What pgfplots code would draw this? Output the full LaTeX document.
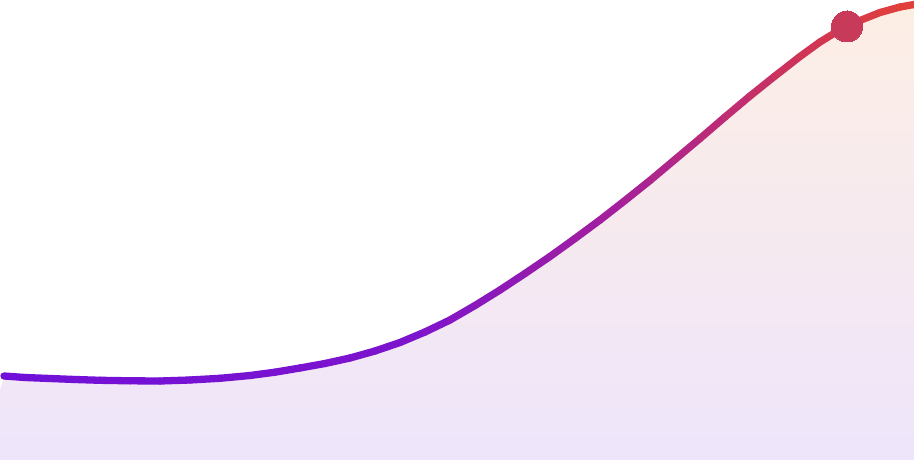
\documentclass[border=0pt]{standalone}
\usepackage{pgfplots}
\usepackage{pgfplotstable}
\pgfplotsset{compat=1.18}
\definecolor{fillTop}{RGB}{253,238,228}
\definecolor{fillBot}{RGB}{238,229,251}
\definecolor{dotc}{RGB}{200,58,90}
\pgfplotstableread{
x y
4 84
25 82.5
50 81.5
75 80.5
100 79.7
130 79.2
160 79
190 80
220 81.7
250 84.5
275 87.8
300 92
325 96.5
350 102
375 109
400 117.5
425 128
450 140
475 154.5
500 170
525 186.5
550 203.5
575 221.5
600 240
625 259.5
650 279.5
675 300.5
700 321.5
725 343
750 364
775 384
800 403.5
820 418
833 426
846 433
860 439.5
880 447.5
900 453
914 455.5
}\curve
\pgfplotstableread{
x y
0 70
4 83
25 82.5
50 81.5
75 80.5
100 79.7
130 79.2
160 79
190 80
220 81.7
250 84.5
275 87.8
300 92
325 96.5
350 102
375 109
400 117.5
425 128
450 140
475 154.5
500 170
525 186.5
550 203.5
575 221.5
600 240
625 259.5
650 279.5
675 300.5
700 321.5
725 343
750 364
775 384
800 403.5
820 418
833 426
846 433
860 439.5
880 447.5
900 453
914 455.5
}\curvefill
\begin{document}
\begin{tikzpicture}
\useasboundingbox (0,0) rectangle (914bp,460bp);
\begin{axis}[
  at={(0,0)}, anchor=south west,
  scale only axis, width=914bp, height=460bp,
  xmin=0, xmax=914, ymin=0, ymax=460,
  hide axis, clip=true,
  colormap={grad}{rgb255(0)=(112,16,216); rgb255(0.45)=(125,20,205); rgb255(0.68)=(165,32,155); rgb255(0.87)=(205,52,90); rgb255(1)=(226,64,56)},
  point meta min=4, point meta max=914,
]
% area fill
\addplot[draw=none, top color=fillTop, bottom color=fillBot] table[x=x,y=y] {\curvefill} \closedcycle;
% gradient line
\addplot[mesh, point meta=x, line width=7.3bp, line cap=round, line join=round] table[x=x,y=y] {\curve};
% marker
\addplot[only marks, color=dotc, mark=*, mark size=15.5bp, mark options={fill=dotc, draw=dotc, line width=0pt}] coordinates {(847,433.5)};
\end{axis}
\end{tikzpicture}
\end{document}
